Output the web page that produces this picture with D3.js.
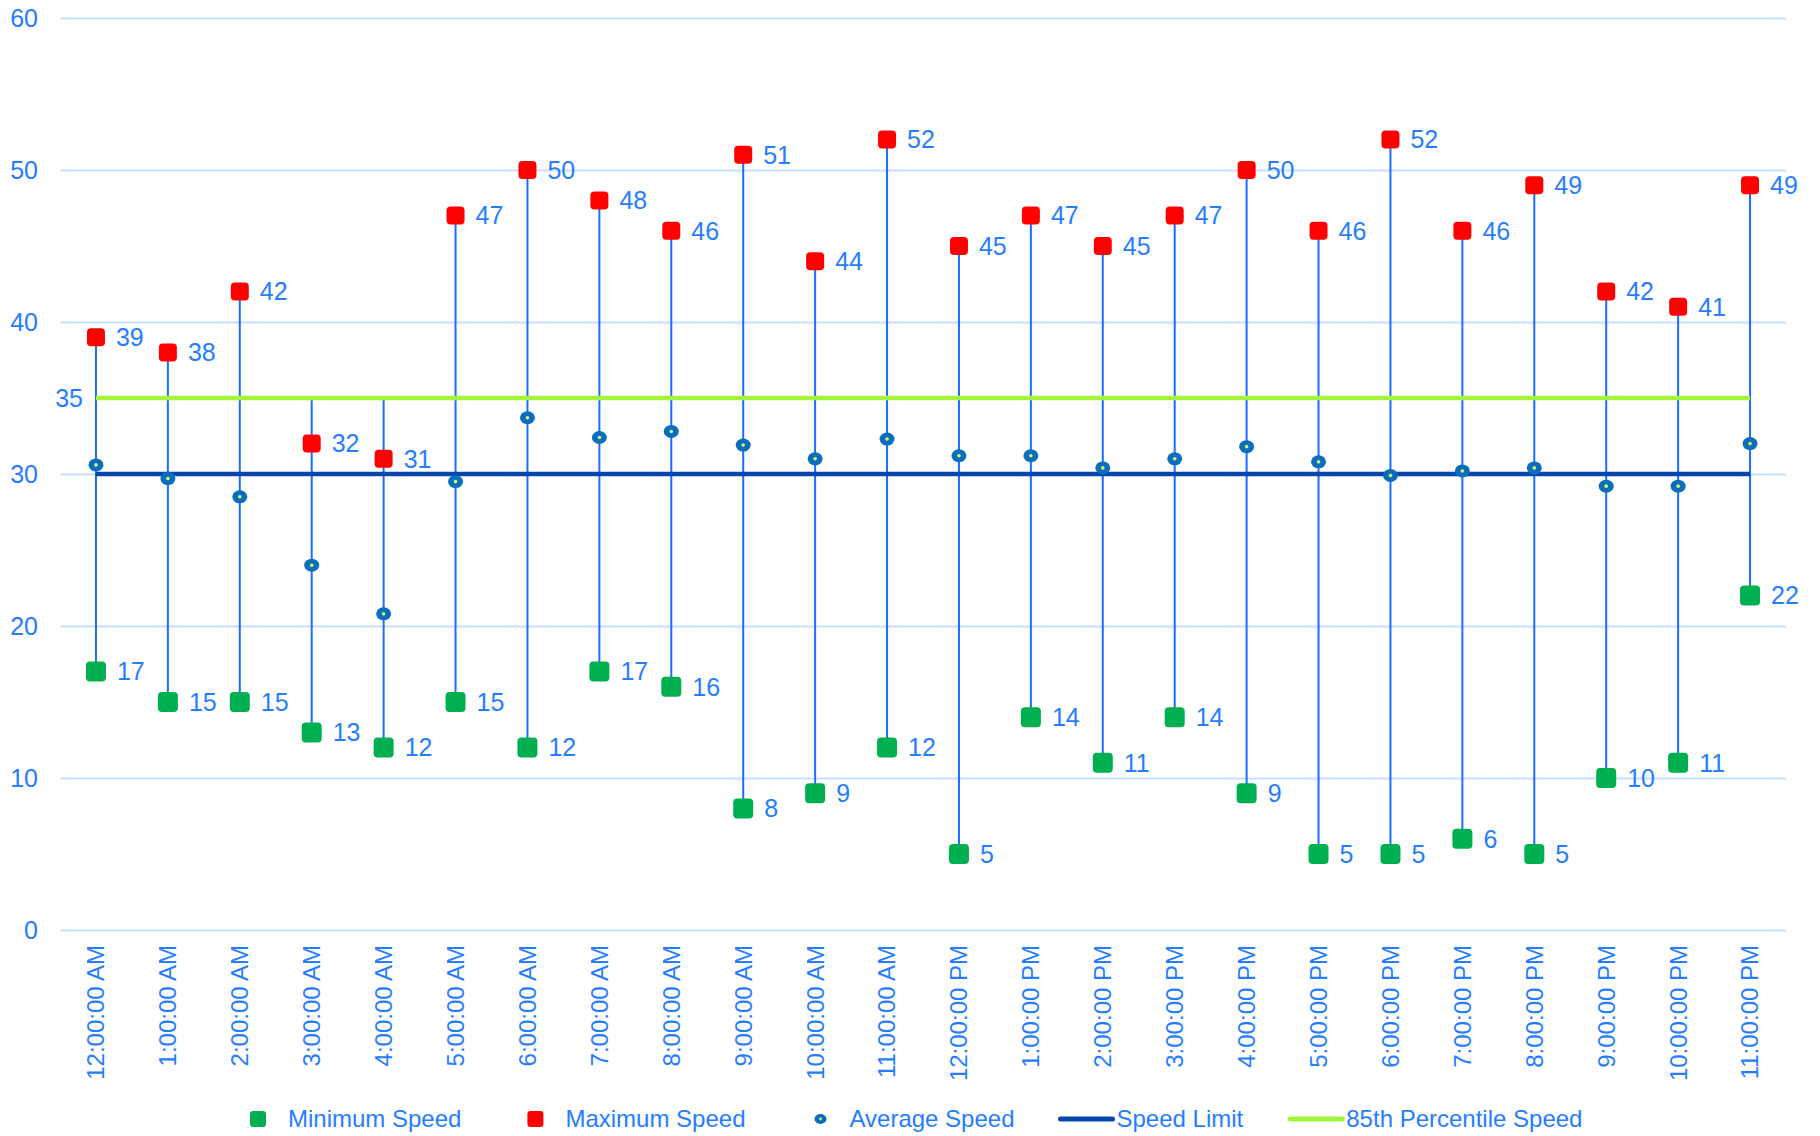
<!DOCTYPE html>
<html>
<head>
<meta charset="utf-8">
<script src="https://cdn.jsdelivr.net/npm/d3@7"></script>
<style>
  body { margin: 0; background: #fff; }
  text { font-family: "Liberation Sans", Arial, sans-serif; }
</style>
</head>
<body>
<div id="chart"></div>
<script>
// hourly speed data
const hours = ["12:00:00 AM","1:00:00 AM","2:00:00 AM","3:00:00 AM","4:00:00 AM","5:00:00 AM",
  "6:00:00 AM","7:00:00 AM","8:00:00 AM","9:00:00 AM","10:00:00 AM","11:00:00 AM",
  "12:00:00 PM","1:00:00 PM","2:00:00 PM","3:00:00 PM","4:00:00 PM","5:00:00 PM",
  "6:00:00 PM","7:00:00 PM","8:00:00 PM","9:00:00 PM","10:00:00 PM","11:00:00 PM"]
const minSpeed = [17,15,15,13,12,15,12,17,16,8,9,12,5,14,11,14,9,5,5,6,5,10,11,22]
const maxSpeed = [39,38,42,32,31,47,50,48,46,51,44,52,45,47,45,47,50,46,52,46,49,42,41,49]
const avgSpeed = [30.6,29.7,28.5,24.0,20.8,29.5,33.7,32.4,32.8,31.9,31.0,32.3,
  31.2,31.2,30.4,31.0,31.8,30.8,29.9,30.2,30.4,29.2,29.2,32.0]
const speedLimit = 30
const pct85 = 35
const yTicks = [0,10,20,30,40,50,60]

const W = 1820, H = 1136
const MARGIN = {TOP: 18, LEFT: 60, RIGHT: 34, BOTTOM: 206}
const BLUE_TXT = "#267dff"

const svg = d3.select("#chart").append("svg")
  .attr("width", W).attr("height", H)

const x = d3.scaleBand()
  .domain(hours)
  .range([MARGIN.LEFT, W - MARGIN.RIGHT])
  .padding(0)
const y = d3.scaleLinear()
  .domain([0, 60])
  .range([H - MARGIN.BOTTOM, MARGIN.TOP])
const cx = d => x(d) + x.bandwidth() / 2

// y axis + gridlines
const yAxis = svg.append("g")
  .attr("transform", `translate(${MARGIN.LEFT},0)`)
  .call(d3.axisLeft(y).tickValues(yTicks).tickSize(-(W - MARGIN.LEFT - MARGIN.RIGHT)).tickPadding(22))
yAxis.select(".domain").remove()
yAxis.selectAll("line").attr("stroke", "#cadffc").attr("stroke-width", 2)
yAxis.selectAll("text").attr("fill", BLUE_TXT).style("font-size", "25px")

// x axis labels
const xAxis = svg.append("g")
  .attr("transform", `translate(0,${y(0)})`)
  .call(d3.axisBottom(x).tickSize(0))
xAxis.select(".domain").remove()
xAxis.selectAll("text")
  .attr("fill", BLUE_TXT)
  .style("font-size", "24px")
  .attr("transform", "rotate(-90)")
  .attr("x", -15).attr("y", 0).attr("dy", "0.35em")
  .attr("text-anchor", "end")

const rows = hours.map((h, i) => ({
  h, min: minSpeed[i], max: maxSpeed[i], avg: avgSpeed[i]
}))

// high-low lines over all series
svg.append("g").selectAll("line")
  .data(rows).enter().append("line")
  .attr("x1", d => cx(d.h)).attr("x2", d => cx(d.h))
  .attr("y1", d => y(Math.min(d.min, d.avg, speedLimit, pct85)))
  .attr("y2", d => y(Math.max(d.max, d.avg, speedLimit, pct85)))
  .attr("stroke", "#1a6dff").attr("stroke-width", 2)

// speed limit + 85th percentile lines
const first = hours[0], last = hours[hours.length - 1]
svg.append("line")
  .attr("x1", cx(first)).attr("x2", cx(last))
  .attr("y1", y(speedLimit)).attr("y2", y(speedLimit))
  .attr("stroke", "#0645ad").attr("stroke-width", 4.5)
svg.append("line")
  .attr("x1", cx(first)).attr("x2", cx(last))
  .attr("y1", y(pct85)).attr("y2", y(pct85))
  .attr("stroke", "#a4f43c").attr("stroke-width", 4.5)
svg.append("text")
  .attr("x", cx(first) - 13).attr("y", y(pct85)).attr("dy", "0.35em")
  .attr("text-anchor", "end").attr("fill", BLUE_TXT).style("font-size", "25px")
  .text(pct85)

// average markers
const avgG = svg.append("g").selectAll("g")
  .data(rows).enter().append("g")
  .attr("transform", d => `translate(${cx(d.h)},${y(d.avg)})`)
avgG.append("ellipse").attr("rx", 7.5).attr("ry", 6.5).attr("fill", "#0a6ebd")
avgG.append("circle").attr("r", 1.8).attr("fill", "#d6f56c")

// max markers + labels
svg.append("g").selectAll("rect")
  .data(rows).enter().append("rect")
  .attr("x", d => cx(d.h) - 9).attr("y", d => y(d.max) - 9)
  .attr("width", 18).attr("height", 18).attr("rx", 4)
  .attr("fill", "#ff0000")
svg.append("g").selectAll("text")
  .data(rows).enter().append("text")
  .attr("x", d => cx(d.h) + 20).attr("y", d => y(d.max)).attr("dy", "0.35em")
  .attr("fill", BLUE_TXT).style("font-size", "25px")
  .text(d => d.max)

// min markers + labels
svg.append("g").selectAll("rect")
  .data(rows).enter().append("rect")
  .attr("x", d => cx(d.h) - 10).attr("y", d => y(d.min) - 10)
  .attr("width", 20).attr("height", 20).attr("rx", 4)
  .attr("fill", "#00b050")
svg.append("g").selectAll("text")
  .data(rows).enter().append("text")
  .attr("x", d => cx(d.h) + 21).attr("y", d => y(d.min)).attr("dy", "0.35em")
  .attr("fill", BLUE_TXT).style("font-size", "25px")
  .text(d => d.min)

// legend
const legendItems = [
  {name: "Minimum Speed", type: "square", color: "#00b050", gap: 22, after: 66},
  {name: "Maximum Speed", type: "square", color: "#ff0000", gap: 22, after: 68},
  {name: "Average Speed", type: "dot", color: "#0a6ebd", gap: 22, after: 46},
  {name: "Speed Limit", type: "line", color: "#0645ad", gap: 4, after: 47},
  {name: "85th Percentile Speed", type: "line", color: "#a4f43c", gap: 4, after: 0}
]
const LEG_Y = 1119
let lx = 250
legendItems.forEach(item => {
  const g = svg.append("g")
  let w
  if (item.type === "square") {
    g.append("rect").attr("x", lx).attr("y", LEG_Y - 8).attr("width", 16).attr("height", 16)
      .attr("rx", 3).attr("fill", item.color)
    w = 16
  } else if (item.type === "dot") {
    g.append("ellipse").attr("cx", lx + 7).attr("cy", LEG_Y).attr("rx", 6).attr("ry", 5)
      .attr("fill", item.color)
    g.append("circle").attr("cx", lx + 7).attr("cy", LEG_Y).attr("r", 1.4).attr("fill", "#d6f56c")
    w = 14
  } else {
    g.append("line").attr("x1", lx).attr("x2", lx + 52).attr("y1", LEG_Y).attr("y2", LEG_Y)
      .attr("stroke", item.color).attr("stroke-width", 5).attr("stroke-linecap", "round")
    w = 52
  }
  const t = g.append("text")
    .attr("x", lx + w + item.gap).attr("y", LEG_Y).attr("dy", "0.35em")
    .attr("fill", BLUE_TXT).style("font-size", "24px")
    .text(item.name)
  lx = lx + w + item.gap + t.node().getComputedTextLength() + item.after
})
</script>
</body>
</html>
